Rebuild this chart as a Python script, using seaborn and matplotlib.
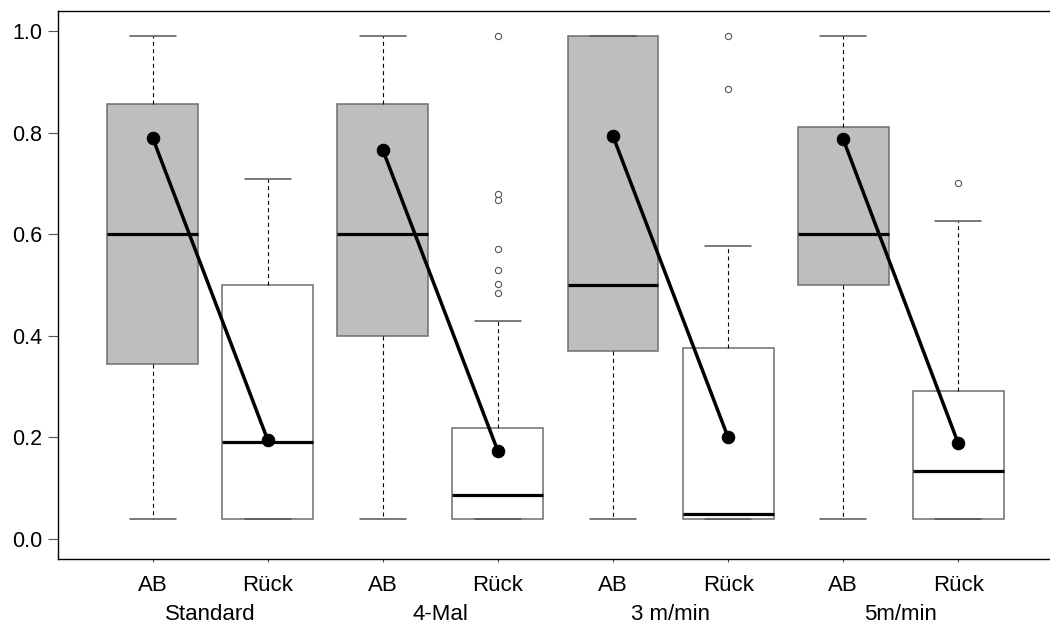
import numpy as np
import pandas as pd
import seaborn as sns
import matplotlib.pyplot as plt
from matplotlib.transforms import blended_transform_factory

# Gruppen und Phasen
groups = ["Standard", "4-Mal", "3 m/min", "5m/min"]
phases = ["AB", "Rück"]

# Boxplot-Kennwerte je Box (AB, Rück, AB, Rück, ...)
whisker_lo = [0.04, 0.04, 0.04, 0.04, 0.04, 0.04, 0.04, 0.04]
q1 = [0.345, 0.04, 0.40, 0.04, 0.37, 0.04, 0.50, 0.04]
median = [0.60, 0.19, 0.60, 0.087, 0.50, 0.05, 0.60, 0.134]
q3 = [0.857, 0.50, 0.857, 0.218, 0.99, 0.375, 0.81, 0.292]
whisker_hi = [0.99, 0.708, 0.99, 0.43, 0.99, 0.576, 0.99, 0.625]
outliers = [
    [],
    [],
    [],
    [0.99, 0.679, 0.667, 0.57, 0.529, 0.501, 0.485],
    [],
    [0.99, 0.885],
    [],
    [0.70],
]

# Mittelwerte
means = [0.79, 0.195, 0.766, 0.173, 0.793, 0.20, 0.787, 0.188]

sns.set_theme(style="ticks")
plt.rcParams["font.family"] = ["Liberation Sans", "DejaVu Sans"]

fig = plt.figure(figsize=(10.5, 6.26), dpi=100)
ax = fig.add_axes([0.055, 0.1065, 0.947, 0.8765])

positions = np.arange(1, len(median) + 1)
stats = []
for i in range(len(median)):
    stats.append(dict(whislo=whisker_lo[i], q1=q1[i], med=median[i], q3=q3[i],
                      whishi=whisker_hi[i], fliers=outliers[i],
                      label=phases[i % 2]))

bp = ax.bxp(stats, positions=positions, widths=0.79, capwidths=0.4,
            patch_artist=True, showfliers=True,
            boxprops=dict(edgecolor="#6e6e6e", linewidth=1.1),
            medianprops=dict(color="black", linewidth=2.3),
            whiskerprops=dict(color="black", linewidth=0.8, linestyle=(0, (3.6, 3))),
            capprops=dict(color="#555555", linewidth=1.1),
            flierprops=dict(marker="o", markersize=4.5, markerfacecolor="white",
                            markeredgecolor="#555555", markeredgewidth=0.8))
for i, patch in enumerate(bp["boxes"]):
    patch.set_facecolor("#BEBEBE" if i % 2 == 0 else "white")

# Mittelwerte verbinden
mean_df = pd.DataFrame({"pos": positions, "mean": means,
                        "group": np.repeat(groups, 2)})
sns.lineplot(data=mean_df, x="pos", y="mean", units="group", estimator=None,
             sort=False, color="black", linewidth=2.5, marker="o", markersize=9,
             markeredgecolor="black", ax=ax, zorder=5)

ax.set_xlim(0.176, 8.815)
ax.set_ylim(-0.04, 1.04)
ax.set_xticks(positions)
ax.set_xticklabels([phases[i % 2] for i in range(len(positions))])
ax.set_yticks(np.arange(0, 1.01, 0.2))
ax.set_yticklabels([f"{v:.1f}" for v in np.arange(0, 1.01, 0.2)])
ax.set_xlabel("")
ax.set_ylabel("")
ax.tick_params(axis="y", length=7, width=0.8, color="#555555", pad=4,
               labelsize=15.5, labelcolor="black")
ax.tick_params(axis="x", length=2.5, width=0.8, color="#555555", pad=9,
               labelsize=16, labelcolor="black")
for side in ["left", "bottom", "top", "right"]:
    ax.spines[side].set_color("black")
    ax.spines[side].set_linewidth(1)

trans = blended_transform_factory(ax.transData, ax.transAxes)
for j, g in enumerate(groups):
    ax.text(2 * j + 1.5, -0.1, g, transform=trans, ha="center", va="center",
            fontsize=16, color="black")

fig.savefig("out.png", dpi=100)
